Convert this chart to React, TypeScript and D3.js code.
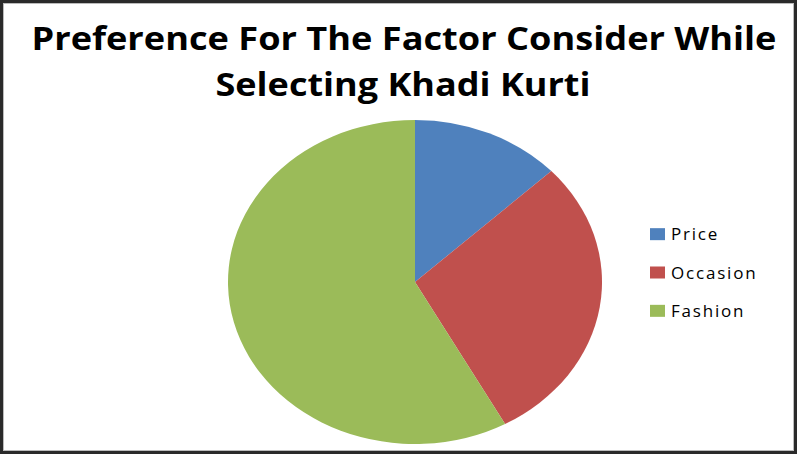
import { useMemo } from "react";
import * as d3 from "d3";

const WIDTH = 797;
const HEIGHT = 455;

// data (share of respondents, %)
const categories = ["Price", "Occasion", "Fashion"];
const shares = [13, 29, 58];
const colors = ["#4F81BD", "#C0504D", "#9BBB59"];

const titleLines = ["Preference For The Factor Consider While", "Selecting Khadi Kurti"];

const CENTER = { x: 415, y: 282 };
const RX = 187;
const RY = 162;

export default function App() {
  const data = categories.map((c, i) => ({ name: c, value: shares[i], color: colors[i] }));

  const arcs = useMemo(() => {
    return d3
      .pie<{ name: string; value: number; color: string }>()
      .sort(null)
      .value((d) => d.value)(data);
  }, []);

  // drawn as a circle, then stretched sideways into the ellipse of the picture
  const arcGen = d3.arc<d3.PieArcDatum<any>>().innerRadius(0).outerRadius(RY);

  const legendY = d3.scaleBand().domain(categories).range([215, 330]);

  return (
    <svg
      width={WIDTH}
      height={HEIGHT}
      style={{ position: "absolute", left: 0, top: 0, background: "#fff" }}
    >
      <rect x={1.5} y={1.5} width={WIDTH - 3} height={HEIGHT - 4} fill="#fff" stroke="#2a2a2a" strokeWidth={3} />
      <rect x={3.5} y={3.5} width={WIDTH - 7} height={HEIGHT - 8} fill="none" stroke="#bbb" strokeWidth={1} />

      <text
        x={404}
        y={50}
        textAnchor="middle"
        fontFamily="'Open Sans', sans-serif"
        fontWeight={700}
        fontSize={33}
        textLength={745}
        lengthAdjust="spacingAndGlyphs"
        fill="#000"
      >
        {titleLines[0]}
      </text>
      <text
        x={403}
        y={96}
        textAnchor="middle"
        fontFamily="'Open Sans', sans-serif"
        fontWeight={700}
        fontSize={33}
        textLength={375}
        lengthAdjust="spacingAndGlyphs"
        fill="#000"
      >
        {titleLines[1]}
      </text>

      <g transform={`translate(${CENTER.x},${CENTER.y}) scale(${RX / RY},1)`}>
        {arcs.map((a, i) => (
          <path key={i} d={arcGen(a) as string} fill={a.data.color} />
        ))}
      </g>

      <g>
        {categories.map((c, i) => {
          const cy = (legendY(c) as number) + legendY.bandwidth() / 2;
          return (
            <g key={c}>
              <rect x={650} y={cy - 6} width={15} height={12} fill={colors[i]} />
              <text
                x={671}
                y={cy + 6}
                fontFamily="'Open Sans', sans-serif"
                fontSize={17}
                letterSpacing={1.8}
                fill="#000"
              >
                {c}
              </text>
            </g>
          );
        })}
      </g>
    </svg>
  );
}
